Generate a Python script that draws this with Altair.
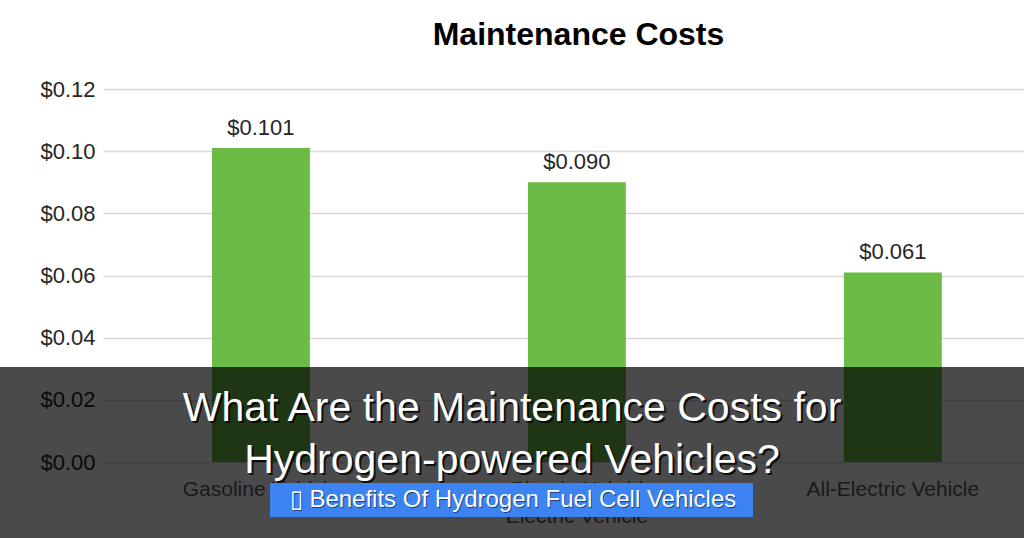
import altair as alt
import pandas as pd

# ---- data ----
categories = ["Gasoline Vehicle", "Plug-in Hybrid|Electric Vehicle", "All-Electric Vehicle"]
costs = [0.101, 0.090, 0.061]
cost_labels = ["$0.101", "$0.090", "$0.061"]
y_ticks = [0.0, 0.02, 0.04, 0.06, 0.08, 0.10, 0.12]
chart_title = "Maintenance Costs"
banner_lines = ["What Are the Maintenance Costs for", "Hydrogen-powered Vehicles?"]
button_text = "\u25af Benefits Of Hydrogen Fuel Cell Vehicles"

df = pd.DataFrame({"category": categories, "cost": costs, "label": cost_labels})

W, H = 921, 373
LEFT, TOP = 103, 89
FONT = "Liberation Sans"

x_enc = alt.X(
    "category:N",
    sort=categories,
    scale=alt.Scale(paddingInner=0.69, paddingOuter=0.3025, align=0.57),
    axis=alt.Axis(
        title=None,
        labelExpr="split(datum.label, '|')",
        labelAngle=0,
        labelFontSize=21,
        labelFont=FONT,
        labelColor="#595959",
        labelPadding=16,
        labelLineHeight=27,
        ticks=False,
        domain=False,
        grid=False,
    ),
)
y_enc = alt.Y(
    "cost:Q",
    scale=alt.Scale(domain=[0, 0.12], nice=False, zero=True),
    axis=alt.Axis(
        title=None,
        values=y_ticks,
        format="$.2f",
        labelFontSize=22,
        labelFont=FONT,
        labelColor="#262626",
        labelPadding=8,
        ticks=False,
        domain=False,
        grid=True,
        gridColor="#d9d9d9",
        gridWidth=1.5,
    ),
)

base = alt.Chart(df)
bars = base.mark_bar(color="#6cbb47").encode(x=x_enc, y=y_enc)
bar_text = base.mark_text(
    baseline="bottom", dy=-8, fontSize=22, font=FONT, color="#262626"
).encode(x=x_enc, y=y_enc, text="label:N")

one = pd.DataFrame({"k": [0]})
band = alt.Chart(one).mark_rect(color="#000000", opacity=0.71).encode(
    x=alt.value(-LEFT), x2=alt.value(1024 - LEFT),
    y=alt.value(367 - TOP), y2=alt.value(538 - TOP),
)
banner_df = pd.DataFrame({"t": ["\n".join(banner_lines)]})
banner_shadow = alt.Chart(banner_df).mark_text(
    font=FONT, fontSize=41, color="#000000", lineBreak="\n", lineHeight=52,
    align="center", baseline="middle", dx=2, dy=2, opacity=0.8,
).encode(text="t:N", x=alt.value(512 - LEFT), y=alt.value(409 - TOP))
banner = alt.Chart(banner_df).mark_text(
    font=FONT, fontSize=41, color="#ffffff", lineBreak="\n", lineHeight=52,
    align="center", baseline="middle",
).encode(text="t:N", x=alt.value(512 - LEFT), y=alt.value(409 - TOP))

button = alt.Chart(one).mark_rect(color="#3d84f2").encode(
    x=alt.value(270 - LEFT), x2=alt.value(753 - LEFT),
    y=alt.value(483 - TOP), y2=alt.value(517 - TOP),
)
btn_df = pd.DataFrame({"t": [button_text]})
button_shadow = alt.Chart(btn_df).mark_text(
    font=FONT, fontSize=24, color="#000000", align="center", baseline="middle",
    dx=1, dy=1, opacity=0.5,
).encode(text="t:N", x=alt.value(513 - LEFT), y=alt.value(500 - TOP))
button_label = alt.Chart(btn_df).mark_text(
    font=FONT, fontSize=24, color="#ffffff", align="center", baseline="middle",
).encode(text="t:N", x=alt.value(513 - LEFT), y=alt.value(500 - TOP))

chart = alt.layer(
    bars, bar_text, band, banner_shadow, banner, button, button_shadow, button_label
).properties(
    width=W,
    height=H,
    title=alt.TitleParams(
        chart_title, font=FONT, fontSize=32, fontWeight="bold", color="#000000",
        anchor="middle", dx=15, offset=26,
    ),
    autosize=alt.AutoSizeParams(type="none"),
    padding={"left": LEFT, "top": TOP, "right": 0, "bottom": 538 - TOP - H},
    background="#ffffff",
).configure_view(stroke=None)

chart.save("out.html", embed_options={"renderer": "svg", "actions": False})
